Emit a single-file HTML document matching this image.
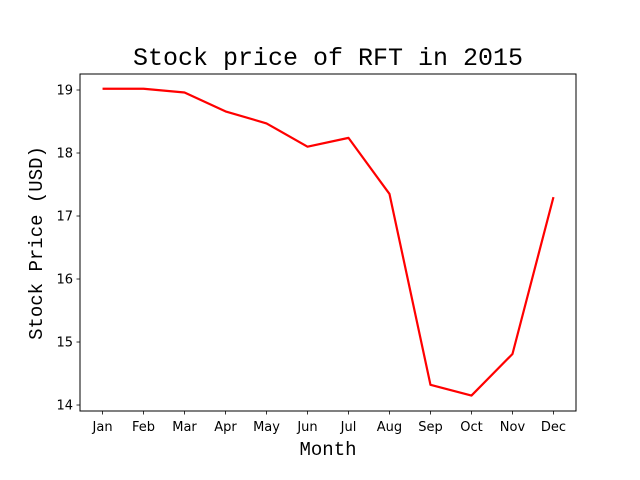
<!DOCTYPE html>
<html><head><meta charset="utf-8"><style>body{margin:0;background:#fff}svg{display:block}</style></head>
<body>
<svg id="chart" width="640" height="480" xmlns="http://www.w3.org/2000/svg" font-family="DejaVu Sans, Liberation Sans, sans-serif"></svg>
<script>
const months = ["Jan","Feb","Mar","Apr","May","Jun","Jul","Aug","Sep","Oct","Nov","Dec"];
const prices = [19.02,19.02,18.96,18.66,18.47,18.10,18.24,17.35,14.32,14.15,14.81,17.30];
const yTicks = [14,15,16,17,18,19];
const L=80,R=576,T=74,B=411;
const xMin=-0.55,xMax=11.55,yMin=13.905,yMax=19.254;
const sx=i=>L+(i-xMin)/(xMax-xMin)*(R-L);
const sy=v=>B-(v-yMin)/(yMax-yMin)*(B-T);
const svg=document.getElementById('chart');
const NS='http://www.w3.org/2000/svg';
function mk(tag,attrs,text){const e=document.createElementNS(NS,tag);for(const k in attrs)e.setAttribute(k,attrs[k]);if(text!==undefined)e.textContent=text;svg.appendChild(e);return e;}
let e;
e=mk('rect',{x:L,y:T,width:R-L,height:B-T,fill:'none',stroke:'#000','stroke-width':1});


months.forEach((m,i)=>{
  const x=sx(i);
  e=mk('line',{x1:x,x2:x,y1:B,y2:B+3.5,stroke:'#000','stroke-width':0.8});
  
  
  e=mk('text',{x:x,y:B+20,'text-anchor':'middle','font-size':13},m);
  
  
});
yTicks.forEach(v=>{
  const y=sy(v);
  e=mk('line',{x1:L-3.5,x2:L,y1:y,y2:y,stroke:'#000','stroke-width':0.8});
  
  
  e=mk('text',{x:L-7,y:y+4.5,'text-anchor':'end','font-size':13},String(v));
  
  
});
e=mk('polyline',{points:prices.map((p,i)=>sx(i)+','+sy(p)).join(' '),fill:'none',stroke:'#ff0000','stroke-width':2.2,'stroke-linejoin':'round'});


e=mk('text',{x:328,y:65,'text-anchor':'middle','font-size':25,'font-family':'Liberation Mono, DejaVu Sans Mono, monospace'},'Stock price of RFT in 2015');


e=mk('text',{x:328,y:455,'text-anchor':'middle','font-size':19,'font-family':'Liberation Mono, DejaVu Sans Mono, monospace'},'Month');


e=mk('text',{x:0,y:0,'text-anchor':'middle','font-size':19,'font-family':'Liberation Mono, DejaVu Sans Mono, monospace',transform:'translate(42,243) rotate(-90)'},'Stock Price (USD)');


</script>
</body></html>
